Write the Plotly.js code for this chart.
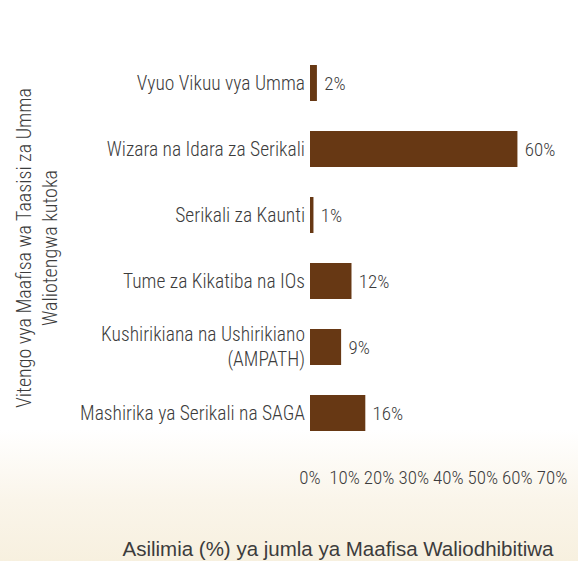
<!DOCTYPE html>
<html>
<head>
<meta charset="utf-8">
<script src="https://cdn.plot.ly/plotly-3.0.1.min.js"></script>
<style>
  html, body { margin: 0; padding: 0; }
  body {
    width: 578px; height: 561px; overflow: hidden;
    background: linear-gradient(to bottom, #ffffff 0px, #ffffff 430px, #faf5ea 500px, #f7f0df 561px);
  }
  #chart { width: 578px; height: 561px; }
</style>
</head>
<body>
<div id="chart"></div>
<script>
// Data
const categories = [
  "Vyuo Vikuu vya Umma",
  "Wizara na Idara za Serikali",
  "Serikali za Kaunti",
  "Tume za Kikatiba na IOs",
  "Kushirikiana na Ushirikiano<br>(AMPATH)",
  "Mashirika ya Serikali na SAGA"
];
const values = [2, 60, 1, 12, 9, 16];
const xTickValues = [0, 10, 20, 30, 40, 50, 60, 70];
const xTickLabels = ["0%", "10%", "20%", "30%", "40%", "50%", "60%", "70%"];
const xTitle = "Asilimia (%) ya jumla ya Maafisa Waliodhibitiwa";
const yTitle = "Vitengo vya Maafisa wa Taasisi za Umma<br>Waliotengwa kutoka";

const narrow = "'Liberation Sans Narrow', 'Arial Narrow', 'Roboto Condensed', sans-serif";
const regular = "'Liberation Sans', Arial, sans-serif";
const textColor = "#3c3c3c";

const trace = {
  type: "bar",
  orientation: "h",
  y: categories,
  x: values,
  marker: { color: "#673814" },
  text: values.map(v => " " + v + "%"),
  textposition: "outside",
  textfont: { family: narrow, size: 19, color: textColor, weight: 300 },
  cliponaxis: false,
  hoverinfo: "none"
};

const layout = {
  width: 578,
  height: 561,
  paper_bgcolor: "rgba(0,0,0,0)",
  plot_bgcolor: "rgba(0,0,0,0)",
  margin: { l: 310, r: 26, t: 50, b: 115 },
  bargap: 0.455,
  showlegend: false,
  font: { family: narrow, color: textColor },
  title: {
    text: xTitle,
    font: { family: regular, size: 20.5, color: textColor },
    xref: "container", yref: "container",
    x: 338 / 578, xanchor: "center",
    y: 1 - 549 / 561, yanchor: "middle"
  },
  xaxis: {
    range: [0, 70],
    tickvals: xTickValues,
    ticktext: xTickLabels,
    showgrid: false,
    zeroline: false,
    showline: false,
    ticks: "",
    ticklabelstandoff: 18,
    tickfont: { family: narrow, size: 19, color: textColor, weight: 300 },
    automargin: false
  },
  yaxis: {
    autorange: "reversed",
    showgrid: false,
    zeroline: false,
    showline: false,
    ticks: "",
    ticklabelstandoff: 4,
    tickfont: { family: narrow, size: 19.5, color: textColor, weight: 300 },
    automargin: false,
    title: { text: yTitle, font: { family: narrow, size: 20, color: textColor, weight: 300 }, standoff: 17 }
  }
};

Plotly.newPlot("chart", [trace], layout, { staticPlot: true, displayModeBar: false });
</script>
</body>
</html>
